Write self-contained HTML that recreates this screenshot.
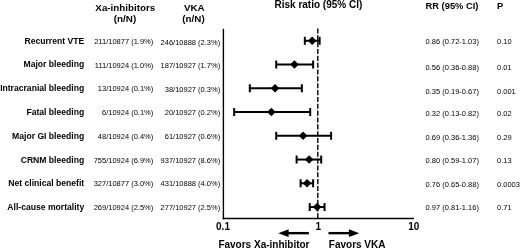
<!DOCTYPE html>
<html><head><meta charset="utf-8"><style>
html,body{margin:0;padding:0;background:#fff;}
body{width:520px;height:249px;overflow:hidden;}
svg{display:block;font-family:"Liberation Sans",sans-serif;filter:grayscale(1);}
</style></head><body>
<svg width="520" height="249" viewBox="0 0 520 249">
<text x="125.30" y="10.50" font-size="9.8" font-weight="bold" text-anchor="middle" fill="#000">Xa-inhibitors</text>
<text x="125.00" y="21.50" font-size="9.8" font-weight="bold" text-anchor="middle" fill="#000">(n/N)</text>
<text x="194.30" y="11.00" font-size="9.8" font-weight="bold" text-anchor="middle" fill="#000">VKA</text>
<text x="193.50" y="21.90" font-size="9.8" font-weight="bold" text-anchor="middle" fill="#000">(n/N)</text>
<text x="274.50" y="7.90" font-size="10" font-weight="bold" text-anchor="start" fill="#000">Risk ratio (95% CI)</text>
<text x="425.50" y="8.90" font-size="9.35" font-weight="bold" text-anchor="start" fill="#000">RR (95% CI)</text>
<text x="497.10" y="8.90" font-size="9.35" font-weight="bold" text-anchor="start" fill="#000">P</text>
<text x="84.20" y="43.70" font-size="8.6" font-weight="bold" text-anchor="end" fill="#000">Recurrent VTE</text>
<text x="153.30" y="43.90" font-size="7.5" font-weight="normal" text-anchor="end" fill="#000">211/10877 (1.9%)</text>
<text x="220.20" y="44.70" font-size="7.5" font-weight="normal" text-anchor="end" fill="#000">246/10888 (2.3%)</text>
<text x="425.60" y="43.50" font-size="7.5" font-weight="normal" text-anchor="start" fill="#000">0.86 (0.72-1.03)</text>
<text x="497.00" y="43.50" font-size="7.5" font-weight="normal" text-anchor="start" fill="#000">0.10</text>
<text x="84.20" y="67.47" font-size="8.6" font-weight="bold" text-anchor="end" fill="#000">Major bleeding</text>
<text x="153.30" y="67.66" font-size="7.5" font-weight="normal" text-anchor="end" fill="#000">111/10924 (1.0%)</text>
<text x="220.20" y="68.29" font-size="7.5" font-weight="normal" text-anchor="end" fill="#000">187/10927 (1.7%)</text>
<text x="425.60" y="69.60" font-size="7.5" font-weight="normal" text-anchor="start" fill="#000">0.56 (0.36-0.88)</text>
<text x="497.00" y="69.60" font-size="7.5" font-weight="normal" text-anchor="start" fill="#000">0.01</text>
<text x="84.20" y="91.24" font-size="8.6" font-weight="bold" text-anchor="end" fill="#000">Intracranial bleeding</text>
<text x="153.30" y="91.42" font-size="7.5" font-weight="normal" text-anchor="end" fill="#000">13/10924 (0.1%)</text>
<text x="220.20" y="91.88" font-size="7.5" font-weight="normal" text-anchor="end" fill="#000">38/10927 (0.3%)</text>
<text x="425.60" y="93.50" font-size="7.5" font-weight="normal" text-anchor="start" fill="#000">0.35 (0.19-0.67)</text>
<text x="497.00" y="93.50" font-size="7.5" font-weight="normal" text-anchor="start" fill="#000">0.001</text>
<text x="84.20" y="115.01" font-size="8.6" font-weight="bold" text-anchor="end" fill="#000">Fatal bleeding</text>
<text x="153.30" y="115.18" font-size="7.5" font-weight="normal" text-anchor="end" fill="#000">6/10924 (0.1%)</text>
<text x="220.20" y="115.47" font-size="7.5" font-weight="normal" text-anchor="end" fill="#000">20/10927 (0.2%)</text>
<text x="425.60" y="115.80" font-size="7.5" font-weight="normal" text-anchor="start" fill="#000">0.32 (0.13-0.82)</text>
<text x="497.00" y="115.80" font-size="7.5" font-weight="normal" text-anchor="start" fill="#000">0.02</text>
<text x="84.20" y="138.78" font-size="8.6" font-weight="bold" text-anchor="end" fill="#000">Major GI bleeding</text>
<text x="153.30" y="138.94" font-size="7.5" font-weight="normal" text-anchor="end" fill="#000">48/10924 (0.4%)</text>
<text x="220.20" y="139.06" font-size="7.5" font-weight="normal" text-anchor="end" fill="#000">61/10927 (0.6%)</text>
<text x="425.60" y="139.70" font-size="7.5" font-weight="normal" text-anchor="start" fill="#000">0.69 (0.36-1.36)</text>
<text x="497.00" y="139.70" font-size="7.5" font-weight="normal" text-anchor="start" fill="#000">0.29</text>
<text x="84.20" y="162.55" font-size="8.6" font-weight="bold" text-anchor="end" fill="#000">CRNM bleeding</text>
<text x="153.30" y="162.70" font-size="7.5" font-weight="normal" text-anchor="end" fill="#000">755/10924 (6.9%)</text>
<text x="220.20" y="162.65" font-size="7.5" font-weight="normal" text-anchor="end" fill="#000">937/10927 (8.6%)</text>
<text x="425.60" y="163.20" font-size="7.5" font-weight="normal" text-anchor="start" fill="#000">0.80 (0.59-1.07)</text>
<text x="497.00" y="163.20" font-size="7.5" font-weight="normal" text-anchor="start" fill="#000">0.13</text>
<text x="84.20" y="186.32" font-size="8.6" font-weight="bold" text-anchor="end" fill="#000">Net clinical benefit</text>
<text x="153.30" y="186.46" font-size="7.5" font-weight="normal" text-anchor="end" fill="#000">327/10877 (3.0%)</text>
<text x="220.20" y="186.24" font-size="7.5" font-weight="normal" text-anchor="end" fill="#000">431/10888 (4.0%)</text>
<text x="425.60" y="186.60" font-size="7.5" font-weight="normal" text-anchor="start" fill="#000">0.76 (0.65-0.88)</text>
<text x="497.00" y="186.60" font-size="7.5" font-weight="normal" text-anchor="start" fill="#000">0.0003</text>
<text x="84.20" y="210.09" font-size="8.6" font-weight="bold" text-anchor="end" fill="#000">All-cause mortality</text>
<text x="153.30" y="210.22" font-size="7.5" font-weight="normal" text-anchor="end" fill="#000">269/10924 (2.5%)</text>
<text x="220.20" y="209.83" font-size="7.5" font-weight="normal" text-anchor="end" fill="#000">277/10927 (2.5%)</text>
<text x="425.60" y="210.00" font-size="7.5" font-weight="normal" text-anchor="start" fill="#000">0.97 (0.81-1.16)</text>
<text x="497.00" y="210.00" font-size="7.5" font-weight="normal" text-anchor="start" fill="#000">0.71</text>
<line x1="223.4" y1="28.8" x2="223.4" y2="219.3" stroke="#000" stroke-width="1.4"/>
<line x1="222.7" y1="218.5" x2="413.9" y2="218.5" stroke="#000" stroke-width="1.6"/>
<line x1="317.8" y1="28.4" x2="317.8" y2="218.5" stroke="#000" stroke-width="1.4" stroke-dasharray="5.1 1.75"/>
<line x1="304.83" y1="40.80" x2="319.62" y2="40.80" stroke="#000" stroke-width="2"/>
<line x1="304.83" y1="36.80" x2="304.83" y2="44.80" stroke="#000" stroke-width="2"/>
<line x1="319.62" y1="36.80" x2="319.62" y2="44.80" stroke="#000" stroke-width="2"/>
<polygon points="307.87,40.80 312.17,36.60 316.47,40.80 312.17,45.00" fill="#000"/>
<line x1="276.20" y1="64.55" x2="313.12" y2="64.55" stroke="#000" stroke-width="2"/>
<line x1="276.20" y1="60.55" x2="276.20" y2="68.55" stroke="#000" stroke-width="2"/>
<line x1="313.12" y1="60.55" x2="313.12" y2="68.55" stroke="#000" stroke-width="2"/>
<polygon points="290.15,64.55 294.45,60.35 298.75,64.55 294.45,68.75" fill="#000"/>
<line x1="249.81" y1="88.30" x2="301.86" y2="88.30" stroke="#000" stroke-width="2"/>
<line x1="249.81" y1="84.30" x2="249.81" y2="92.30" stroke="#000" stroke-width="2"/>
<line x1="301.86" y1="84.30" x2="301.86" y2="92.30" stroke="#000" stroke-width="2"/>
<polygon points="270.74,88.30 275.04,84.10 279.34,88.30 275.04,92.50" fill="#000"/>
<line x1="234.14" y1="112.05" x2="310.20" y2="112.05" stroke="#000" stroke-width="2"/>
<line x1="234.14" y1="108.05" x2="234.14" y2="116.05" stroke="#000" stroke-width="2"/>
<line x1="310.20" y1="108.05" x2="310.20" y2="116.05" stroke="#000" stroke-width="2"/>
<polygon points="267.04,112.05 271.34,107.85 275.64,112.05 271.34,116.25" fill="#000"/>
<line x1="276.20" y1="135.80" x2="331.10" y2="135.80" stroke="#000" stroke-width="2"/>
<line x1="276.20" y1="131.80" x2="276.20" y2="139.80" stroke="#000" stroke-width="2"/>
<line x1="331.10" y1="131.80" x2="331.10" y2="139.80" stroke="#000" stroke-width="2"/>
<polygon points="298.77,135.80 303.07,131.60 307.37,135.80 303.07,140.00" fill="#000"/>
<line x1="296.61" y1="159.55" x2="321.19" y2="159.55" stroke="#000" stroke-width="2"/>
<line x1="296.61" y1="155.55" x2="296.61" y2="163.55" stroke="#000" stroke-width="2"/>
<line x1="321.19" y1="155.55" x2="321.19" y2="163.55" stroke="#000" stroke-width="2"/>
<polygon points="304.88,159.55 309.18,155.35 313.48,159.55 309.18,163.75" fill="#000"/>
<line x1="300.61" y1="183.30" x2="313.12" y2="183.30" stroke="#000" stroke-width="2"/>
<line x1="300.61" y1="179.30" x2="300.61" y2="187.30" stroke="#000" stroke-width="2"/>
<line x1="313.12" y1="179.30" x2="313.12" y2="187.30" stroke="#000" stroke-width="2"/>
<polygon points="302.77,183.30 307.07,179.10 311.37,183.30 307.07,187.50" fill="#000"/>
<line x1="309.70" y1="207.05" x2="324.53" y2="207.05" stroke="#000" stroke-width="2"/>
<line x1="309.70" y1="203.05" x2="309.70" y2="211.05" stroke="#000" stroke-width="2"/>
<line x1="324.53" y1="203.05" x2="324.53" y2="211.05" stroke="#000" stroke-width="2"/>
<polygon points="312.84,207.05 317.14,202.85 321.44,207.05 317.14,211.25" fill="#000"/>
<text x="223.00" y="229.60" font-size="10" font-weight="bold" text-anchor="middle" fill="#000">0.1</text>
<text x="318.30" y="229.60" font-size="10" font-weight="bold" text-anchor="middle" fill="#000">1</text>
<text x="413.70" y="229.60" font-size="10" font-weight="bold" text-anchor="middle" fill="#000">10</text>
<line x1="287" y1="233.15" x2="308.9" y2="233.15" stroke="#000" stroke-width="2.4"/>
<polygon points="278.3,233.15 288.6,229.35 288.6,236.95000000000002" fill="#000"/>
<line x1="328.5" y1="233.15" x2="350" y2="233.15" stroke="#000" stroke-width="2.4"/>
<polygon points="359.3,233.15 348.9,229.35 348.9,236.95000000000002" fill="#000"/>
<text x="218.40" y="247.90" font-size="10" font-weight="bold" text-anchor="start" fill="#000">Favors Xa-inhibitor</text>
<text x="328.80" y="248.00" font-size="10" font-weight="bold" text-anchor="start" fill="#000">Favors VKA</text>
</svg>
</body></html>
